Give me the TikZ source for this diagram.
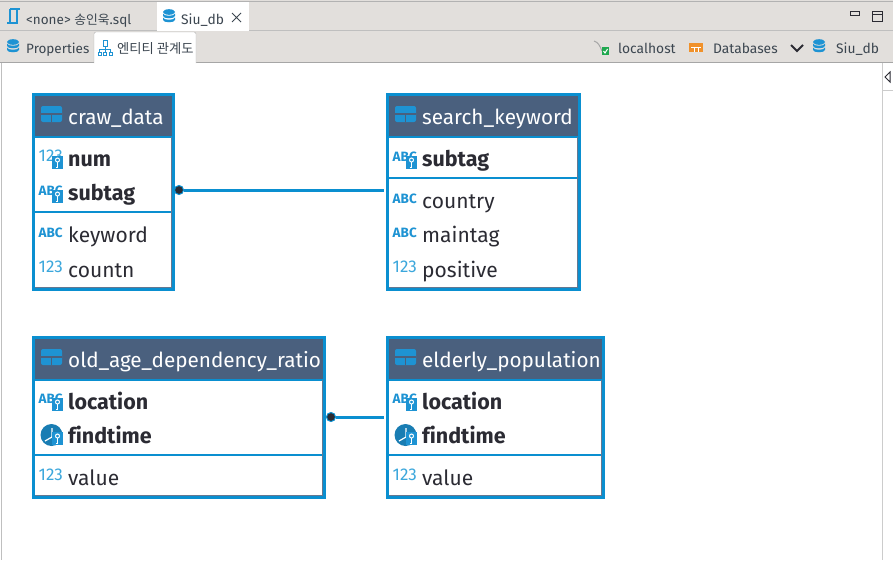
\documentclass[tikz,border=0pt]{standalone}
\usepackage{fontspec}
\setmainfont[Ligatures=NoCommon]{Fira Sans}
\newfontfamily\cjkfont{Noto Sans CJK KR}
\usetikzlibrary{arrows.meta,positioning,calc}
\definecolor{chrome}{HTML}{E2DFDC}
\definecolor{edgeblue}{HTML}{0A8FD0}
\definecolor{headblue}{HTML}{4A607E}
\definecolor{iconblue}{HTML}{1E93D3}
\definecolor{numblue}{HTML}{3BA7DC}
\definecolor{inkdark}{HTML}{2B2B33}
\definecolor{tabink}{HTML}{3C4650}
\definecolor{folder}{HTML}{F0912A}
\definecolor{okgreen}{HTML}{1FA84F}

\tikzset{
  tbl/.style={draw=edgeblue, line width=3pt, fill=white, inner sep=0pt, anchor=north west},
  head/.style={fill=headblue, inner sep=0pt, anchor=north west},
  title/.style={anchor=base west, inner sep=0pt, text=white, font=\fontsize{20.7}{24}\selectfont},
  col/.style={anchor=base west, inner sep=0pt, text=inkdark, font=\fontsize{21}{24}\selectfont},
  keycol/.style={col, font=\fontsize{21.5}{24}\selectfont\bfseries},
  tab/.style={anchor=base west, inner sep=0pt, text=tabink, font=\fontsize{13.5}{16}\selectfont},
  rel/.style={draw=edgeblue, line width=3pt},
  reldot/.style={circle, fill=inkdark, draw=edgeblue, line width=1pt, minimum size=9pt, inner sep=0pt},
  rim/.style={draw=headblue!85, line width=.8pt},
  % icons, origin at the left end of the row's middle
  numicon/.pic={\node[anchor=west, inner sep=0pt, text=numblue, font=\fontsize{17}{18}\selectfont] (-t) at (-.5,-3) {123};},
  abcicon/.pic={\node[anchor=west, inner sep=0pt, text=iconblue, font=\fontsize{13.5}{14}\selectfont\bfseries] (-t) at (-.5,-2) {ABC};},
  keyicon/.pic={
    \fill[iconblue] (13,-3) rectangle (24,10);
    \draw[white, line width=1pt] (18.5,1) circle (2);
    \draw[white, line width=1pt] (18.5,3) -- (18.5,8) -- (16.5,8);},
  clockicon/.pic={
    \fill[iconblue!85!black] (11.5,0) circle (11);
    \draw[white, line width=1.2pt] (12,-7) -- (12,2) -- (5,6);},
  tblicon/.pic={
    \fill[iconblue, rounded corners=2pt] (0,-8) rectangle (21,8);
    \draw[headblue, line width=1.4pt] (0,0) -- (21,0) (10.5,0) -- (10.5,8);},
  dbicon/.pic={
    \fill[iconblue] (0,-5) ellipse (6 and 2.8);
    \foreach \yy in {-3.5,.5}{
      \fill[iconblue] (-6,\yy) -- (-6,\yy+2.5) .. controls (-6,\yy+5.5) and (6,\yy+5.5) .. (6,\yy+2.5) -- (6,\yy) .. controls (6,\yy+3) and (-6,\yy+3) .. cycle;}},
}

\begin{document}
\begin{tikzpicture}[x=1pt, y=-1pt]
  \useasboundingbox (0,0) rectangle (893,560);
  % window chrome
  \fill[white] (0,0) rectangle (893,560);
  \fill[chrome] (0,0) rectangle (893,63);
  \draw[gray!60, line width=1pt] (0,1) -- (893,1);
  \draw[gray!50, line width=1pt] (0,30.5) -- (893,30.5);
  \draw[gray!70, line width=1.2pt] (0,62.5) -- (893,62.5);
  \draw[gray!50, line width=1pt] (1,63) -- (1,560);
  \draw[gray!40, line width=1pt] (882.5,63) -- (882.5,560) (882.5,90.5) -- (893,90.5);
  \fill[white] (157,2) rectangle (249,31);
  \filldraw[fill=white, draw=gray!60, rounded corners=2pt] (94,63) -- (94,32) -- (196,32) -- (196,63);
  % tabs
  \draw[iconblue, line width=1.2pt] (10,9) -- (20,9) (17,9) -- (17,23) -- (7,23) (10,9) -- (10,23);
  \node[tab] (sqltab) at (26,24) {<none> {\cjkfont\fontsize{12.8}{16}\selectfont 송인욱}.sql};
  \pic at (169,17) {dbicon};
  \node[tab, font=\fontsize{13.8}{16}\selectfont] (dbtab) at (181,24) {Siu\_db};
  \draw[tabink, line width=1pt] (232,13) -- (241,22) (241,13) -- (232,22);
  \pic at (13,47) {dbicon};
  \node[tab] (proptab) at (26,53) {Properties};
  \draw[iconblue, line width=1pt] (103,40) rectangle (107,46) (105,46) -- (105,49) (99.5,52) -- (99.5,49) -- (110.5,49) -- (110.5,52) (105,49) -- (105,52)
    (98,52) rectangle (101,55) (103.5,52) rectangle (106.5,55) (109,52) rectangle (112,55);
  \node[tab, font=\fontsize{13.3}{16}\selectfont\cjkfont] (erdtab) at (117,53) {엔티티 관계도};
  \draw[gray!70, line width=1pt] (594,41) .. controls (598,42) and (600,46) .. (602,51);
  \fill[okgreen] (602,47) rectangle (609,55);
  \draw[white, line width=1pt] (603.5,51) -- (605,53) -- (607.5,49);
  \node[tab, font=\fontsize{13.8}{16}\selectfont] (hosttab) at (618,53) {localhost};
  \fill[folder] (689,43) rectangle (703,52);
  \draw[white, line width=1pt] (691,47.5) -- (701,47.5) (694,47.5) -- (694,52) (698,47.5) -- (698,52);
  \node[tab, font=\fontsize{13.8}{16}\selectfont] (dbstab) at (713,53) {Databases};
  \draw[inkdark, line width=2pt] (791,45) -- (797,51) -- (803,45);
  \pic at (819,47) {dbicon};
  \node[tab, font=\fontsize{13.8}{16}\selectfont] (sdbtab) at (836,53) {Siu\_db};
  \draw[inkdark, line width=1pt] (850,11) rectangle (859,15) (872,11) rectangle (882,21) (872,14) -- (882,14);
  \draw[inkdark, line width=1pt] (890,72) -- (885,77) -- (890,82) -- cycle;

  % craw_data
  \node[tbl, minimum width=140pt, minimum height=195pt] (crawbox) at (32,93) {};
  \node[head, minimum width=137pt, minimum height=40pt] (crawhead) at (35,96) {};
  \draw[edgeblue, line width=2pt] (35,136.5) -- (172,136.5) (35,212) -- (172,212);
  \draw[rim] (171.7,137) -- (171.7,287.7) -- (35,287.7);
  \pic at (41,114) {tblicon};
  \node[title] (crawname) at (68,124) {craw\_data};
  \pic at (39,159) {numicon}; \pic at (39,159) {keyicon};
  \node[keycol] (crawnum) at (68,166) {num};
  \pic at (39,193) {abcicon}; \pic at (39,193) {keyicon};
  \node[keycol] (crawsub) at (68,200) {subtag};
  \pic at (39,235) {abcicon};
  \node[col] (crawkw) at (68,242) {keyword};
  \pic at (39,270) {numicon};
  \node[col] (crawcnt) at (68,277) {countn};

  % search_keyword
  \node[tbl, minimum width=192pt, minimum height=195pt] (srchbox) at (386,93) {};
  \node[head, minimum width=189pt, minimum height=40pt] (srchhead) at (389,96) {};
  \draw[edgeblue, line width=2pt] (389,136.5) -- (578,136.5) (389,177.5) -- (578,177.5);
  \draw[rim] (577.7,137) -- (577.7,287.7) -- (389,287.7);
  \pic at (395,114) {tblicon};
  \node[title] (srchname) at (422,124) {search\_keyword};
  \pic at (393,159) {abcicon}; \pic at (393,159) {keyicon};
  \node[keycol] (srchsub) at (422,166) {subtag};
  \pic at (393,201) {abcicon};
  \node[col] (srchcty) at (422,208) {country};
  \pic at (393,235) {abcicon};
  \node[col] (srchmain) at (422,242) {maintag};
  \pic at (393,270) {numicon};
  \node[col] (srchpos) at (422,277) {positive};

  % old_age_dependency_ratio
  \node[tbl, minimum width=291pt, minimum height=160pt] (oldbox) at (32,336) {};
  \node[head, minimum width=288pt, minimum height=40pt] (oldhead) at (35,339) {};
  \draw[edgeblue, line width=2pt] (35,379.5) -- (323,379.5) (35,455) -- (323,455);
  \draw[rim] (322.7,380) -- (322.7,495.7) -- (35,495.7);
  \pic at (41,357) {tblicon};
  \node[title] (oldname) at (68,367) {old\_age\_dependency\_ratio};
  \pic at (39,401) {abcicon}; \pic at (39,401) {keyicon};
  \node[keycol] (oldloc) at (68,409) {location};
  \pic at (40,435) {clockicon}; \pic at (39,435) {keyicon};
  \node[keycol] (oldtime) at (68,443) {findtime};
  \pic at (39,478) {numicon};
  \node[col] (oldval) at (68,485) {value};

  % elderly_population
  \node[tbl, minimum width=216pt, minimum height=160pt] (eldbox) at (386,336) {};
  \node[head, minimum width=213pt, minimum height=40pt] (eldhead) at (389,339) {};
  \draw[edgeblue, line width=2pt] (389,379.5) -- (602,379.5) (389,455) -- (602,455);
  \draw[rim] (601.7,380) -- (601.7,495.7) -- (389,495.7);
  \pic at (395,357) {tblicon};
  \node[title] (eldname) at (422,367) {elderly\_population};
  \pic at (393,401) {abcicon}; \pic at (393,401) {keyicon};
  \node[keycol] (eldloc) at (422,409) {location};
  \pic at (394,435) {clockicon}; \pic at (393,435) {keyicon};
  \node[keycol] (eldtime) at (422,443) {findtime};
  \pic at (393,478) {numicon};
  \node[col] (eldval) at (422,485) {value};

  % relations
  \node[reldot] (crawdot) at (179,190) {};
  \coordinate (srchend) at (384,190);
  \draw[rel] (crawdot) -- (srchend);
  \node[reldot] (olddot) at (331,417) {};
  \coordinate (eldend) at (384,417);
  \draw[rel] (olddot) -- (eldend);
\end{tikzpicture}
\end{document}
